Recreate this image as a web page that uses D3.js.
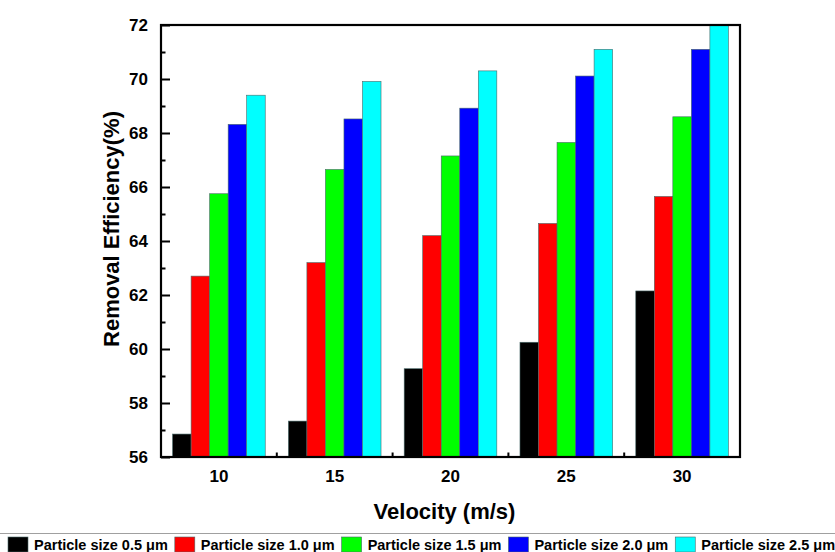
<!DOCTYPE html>
<html>
<head>
<meta charset="utf-8">
<script src="https://cdn.jsdelivr.net/npm/d3@7"></script>
<style>
  html, body { margin: 0; padding: 0; background: #fff; }
  svg { display: block; font-family: "Liberation Sans", Arial, sans-serif; }
</style>
</head>
<body>
<svg id="chart" width="835" height="552"></svg>
<script>
// ---- data ----
const velocities = ["10", "15", "20", "25", "30"];
const seriesNames = ["Particle size 0.5 μm", "Particle size 1.0 μm", "Particle size 1.5 μm", "Particle size 2.0 μm", "Particle size 2.5 μm"];
const size05 = [56.85, 57.33, 59.27, 60.25, 62.15];
const size10 = [62.70, 63.20, 64.20, 64.65, 65.65];
const size15 = [65.75, 66.65, 67.15, 67.65, 68.60];
const size20 = [68.32, 68.52, 68.92, 70.11, 71.10];
const size25 = [69.40, 69.91, 70.30, 71.10, 72.00];
const seriesColors = ["#000000", "#ff0000", "#00ff00", "#0000ff", "#00ffff"];
const yTicks = [56, 58, 60, 62, 64, 66, 68, 70, 72];
const yMinorTicks = [57, 59, 61, 63, 65, 67, 69, 71];
const xTitle = "Velocity (m/s)";
const yTitle = "Removal Efficiency(%)";

const seriesValues = [size05, size10, size15, size20, size25];

// ---- layout ----
const svg = d3.select("#chart");
const L = 161, R = 740, T = 25, B = 457;

const x = d3.scaleBand().domain(velocities).range([L, R]).paddingInner(0.2).paddingOuter(0.1);
const xs = d3.scaleBand().domain(seriesNames).range([0, x.bandwidth()]).padding(0);
const y = d3.scaleLinear().domain([56, 72]).range([B, T]);

// bars
const groups = svg.append("g").selectAll("g").data(velocities).join("g")
  .attr("transform", d => `translate(${x(d)},0)`);
groups.selectAll("rect")
  .data((v, i) => seriesNames.map((s, k) => ({ s, k, v: seriesValues[k][i] })))
  .join("rect")
  .attr("x", d => xs(d.s))
  .attr("width", xs.bandwidth())
  .attr("y", d => y(d.v))
  .attr("height", d => B - y(d.v))
  .attr("fill", d => seriesColors[d.k])
  .attr("stroke", "#4a6a6a")
  .attr("stroke-width", 0.6);

// y axis ticks (inward)
const yAxis = svg.append("g").attr("transform", `translate(${L},0)`)
  .call(d3.axisRight(y).tickValues(yTicks).tickSize(9).tickFormat(""));
yAxis.select(".domain").remove();
yAxis.selectAll("line").attr("stroke", "#000").attr("stroke-width", 2);
const yMinor = svg.append("g").attr("transform", `translate(${L},0)`)
  .call(d3.axisRight(y).tickValues(yMinorTicks).tickSize(4.5).tickFormat(""));
yMinor.select(".domain").remove();
yMinor.selectAll("line").attr("stroke", "#000").attr("stroke-width", 2);

// y labels
svg.append("g").selectAll("text").data(yTicks).join("text")
  .attr("x", 148).attr("y", d => y(d)).attr("dy", "0.36em")
  .attr("text-anchor", "end")
  .attr("font-size", 17).attr("font-weight", "bold")
  .text(d => d);

// x minor ticks between groups (inward)
const step = x.step();
const xMinor = velocities.slice(1).map(v => x(v) - step * x.paddingInner() / 2);
svg.append("g").selectAll("line").data(xMinor).join("line")
  .attr("x1", d => d).attr("x2", d => d)
  .attr("y1", B).attr("y2", B - 4.5)
  .attr("stroke", "#000").attr("stroke-width", 2);

// x labels
svg.append("g").selectAll("text").data(velocities).join("text")
  .attr("x", d => x(d) + x.bandwidth() / 2).attr("y", 482)
  .attr("text-anchor", "middle")
  .attr("font-size", 17).attr("font-weight", "bold")
  .text(d => d);

// frame
svg.append("rect").attr("x", L).attr("y", T).attr("width", R - L).attr("height", B - T)
  .attr("fill", "none").attr("stroke", "#000").attr("stroke-width", 2.2);

// titles
svg.append("text").attr("x", 444.5).attr("y", 519)
  .attr("text-anchor", "middle").attr("font-size", 22).attr("font-weight", "bold")
  .text(xTitle);
svg.append("text").attr("transform", "translate(118.5,229) rotate(-90)")
  .attr("text-anchor", "middle").attr("font-size", 22).attr("font-weight", "bold")
  .text(yTitle);

// legend
svg.append("line").attr("x1", 0).attr("x2", 835).attr("y1", 533.5).attr("y2", 533.5)
  .attr("stroke", "#a0a0a0").attr("stroke-width", 1);
const lg = svg.append("g");
let lx = 8;
seriesNames.forEach((name, k) => {
  lg.append("rect").attr("x", lx).attr("y", 537).attr("width", 20).attr("height", 15)
    .attr("fill", seriesColors[k]).attr("stroke", "#4a6a6a").attr("stroke-width", 0.6);
  const t = lg.append("text").attr("x", lx + 26).attr("y", 549.5)
    .attr("font-size", 14.5).attr("font-weight", "bold").text(name);
  const w = t.node().getComputedTextLength();
  lx = lx + 26 + w + 7;
});
</script>
</body>
</html>
